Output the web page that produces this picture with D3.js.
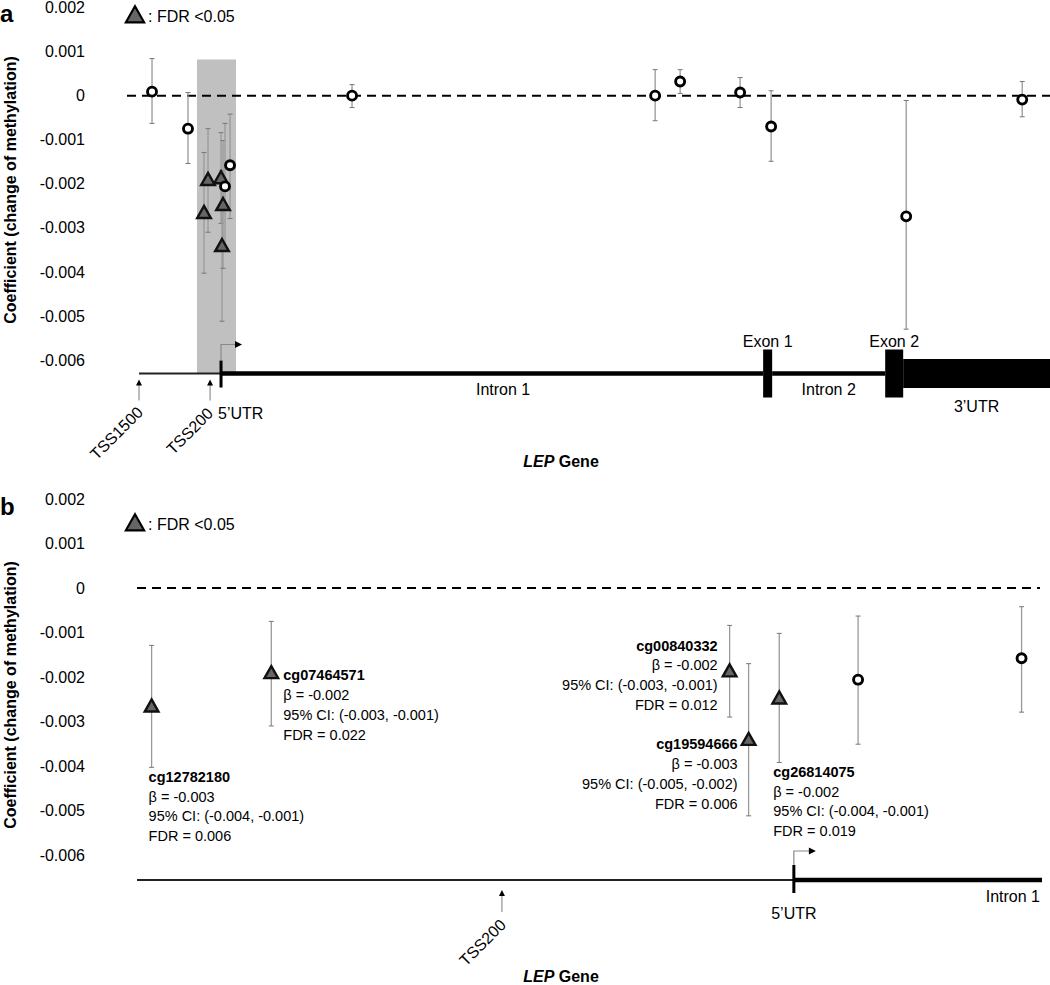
<!DOCTYPE html>
<html>
<head>
<meta charset="utf-8">
<script src="https://cdn.jsdelivr.net/npm/d3@7"></script>
<style>
  body { margin: 0; background: #fff; }
  svg { display: block; }
  text { font-family: "Liberation Sans", Arial, Helvetica, sans-serif; fill: #000; }
</style>
</head>
<body>
<script>
(function () {
  "use strict";

  // ---- panel a : all LEP probes (position along the gene schematic, bp from TSS) ----
  var posA  = [-1262, -604, -311, -238, 0, 18, 37, 73, 165, 2396, 7939, 8396, 9493, 10060, 12530, 14652];
  var coef  = [0.00009, -0.00075, -0.00267, -0.00192, -0.00188, -0.00342, -0.00249, -0.00206, -0.00158,
               0.00000, 0.00000, 0.00032, 0.00007, -0.00070, -0.00274, -0.00009];
  var ciHi  = [0.00084, 0.00007, -0.00129, -0.00075, -0.00084, -0.00170, -0.00102, -0.00063, -0.00042,
               0.00025, 0.00059, 0.00059, 0.00041, 0.00011, -0.00011, 0.00032];
  var ciLo  = [-0.00063, -0.00154, -0.00403, -0.00310, -0.00290, -0.00512, -0.00392, -0.00351, -0.00279,
               -0.00027, -0.00057, 0.00005, -0.00027, -0.00149, -0.00530, -0.00048];
  var sig   = [0, 0, 1, 1, 1, 1, 1, 0, 0, 0, 0, 0, 0, 0, 0, 0];

  // ---- panel b : zoom on the promoter probes (indices into the arrays above) ----
  var idxB  = [2, 3, 4, 5, 6, 7, 8];
  var posB  = [-440, -358, -44, -31, -10, 44, 156];

  // annotations of the significant probes
  var annIdx  = [2, 3, 4, 5, 6];
  var annId   = ['cg12782180', 'cg07464571', 'cg00840332', 'cg19594666', 'cg26814075'];
  var annBeta = ['-0.003', '-0.002', '-0.002', '-0.003', '-0.002'];
  var annCI   = ['(-0.004, -0.001)', '(-0.003, -0.001)', '(-0.003, -0.001)', '(-0.005, -0.002)', '(-0.004, -0.001)'];
  var annFDR  = ['0.006', '0.022', '0.012', '0.006', '0.019'];

  // gene structure, panel a
  var featStart = [-1500, 0, 9914, 10079, 12146, 12475];
  var featEnd   = [0, 9914, 10079, 12146, 12475, 15160];
  var featType  = ['thin', 'thick', 'exon', 'thick', 'exon', 'utr'];
  var featName  = ['', 'Intron 1', 'Exon 1', 'Intron 2', 'Exon 2', '3\u2019UTR'];
  var shadeRange = [-439, 274];
  var shadeTop = 0.00082;

  var yTicks = [0.002, 0.001, 0, -0.001, -0.002, -0.003, -0.004, -0.005, -0.006];

  var W = 1050, H = 985;
  var svg = d3.select('body').append('svg')
      .attr('width', W)
      .attr('height', H);

  var xA = d3.scaleLinear().domain([-1500, 15160]).range([139, 1050]);
  var yA = d3.scaleLinear().domain([-0.006, 0.002]).range([360, 7.5]);
  var xB = d3.scaleLinear().domain([-450, 170]).range([137, 1042]);
  var yB = d3.scaleLinear().domain([-0.006, 0.002]).range([855, 499]);

  function triPath(s) {
    return 'M0,' + (-7 * s) + 'L' + (6.5 * s) + ',' + (4.5 * s) + 'L' + (-6.5 * s) + ',' + (4.5 * s) + 'Z';
  }

  function yAxis(g, y, letter, letterY, titleY, legendY) {
    var ax = g.append('g')
        .attr('transform', 'translate(85,0)')
        .call(d3.axisLeft(y).tickValues(yTicks).tickSize(0).tickPadding(0)
          .tickFormat(function (d) { return d === 0 ? '0' : d.toFixed(3); }));
    ax.select('.domain').remove();
    ax.selectAll('text')
        .style('font-family', '"Liberation Sans", Arial, sans-serif')
        .style('font-size', '16px')
        .attr('fill', '#000');

    g.append('text')
        .attr('x', 0)
        .attr('y', letterY)
        .style('font-size', '24px')
        .style('font-weight', 'bold')
        .text(letter);

    g.append('text')
        .attr('transform', 'translate(16,' + titleY + ') rotate(-90)')
        .attr('text-anchor', 'middle')
        .style('font-size', '16px')
        .style('font-weight', 'bold')
        .text('Coefficient (change of methylation)');

    // legend
    g.append('path')
        .attr('d', triPath(1.4))
        .attr('transform', 'translate(135,' + legendY + ')')
        .attr('fill', '#666')
        .attr('stroke', '#000')
        .attr('stroke-width', 2.2);
    g.append('text')
        .attr('x', 148)
        .attr('y', legendY + 6)
        .style('font-size', '16px')
        .text(': FDR <0.05');
  }

  function points(g, rows, x, y) {
    var bars = g.selectAll('.bar')
        .data(rows)
        .enter()
      .append('g')
        .attr('class', 'bar');
    bars.append('line')
        .attr('x1', function (d) { return x(d.pos); })
        .attr('x2', function (d) { return x(d.pos); })
        .attr('y1', function (d) { return y(d.hi); })
        .attr('y2', function (d) { return y(d.lo); })
        .attr('stroke', '#999')
        .attr('stroke-width', 1.3);
    ['hi', 'lo'].forEach(function (k) {
      bars.append('line')
          .attr('x1', function (d) { return x(d.pos) - 2.5; })
          .attr('x2', function (d) { return x(d.pos) + 2.5; })
          .attr('y1', function (d) { return y(d[k]); })
          .attr('y2', function (d) { return y(d[k]); })
          .attr('stroke', '#777')
          .attr('stroke-width', 1);
    });

    g.selectAll('.tri')
        .data(rows.filter(function (d) { return d.sig; }))
        .enter()
      .append('path')
        .attr('class', 'tri')
        .attr('d', triPath(1.05))
        .attr('transform', function (d) { return 'translate(' + x(d.pos) + ',' + y(d.coef) + ')'; })
        .attr('fill', '#666')
        .attr('stroke', '#111')
        .attr('stroke-width', 2.4);

    g.selectAll('.dot')
        .data(rows.filter(function (d) { return !d.sig; }))
        .enter()
      .append('circle')
        .attr('class', 'dot')
        .attr('cx', function (d) { return x(d.pos); })
        .attr('cy', function (d) { return y(d.coef); })
        .attr('r', 4.5)
        .attr('fill', '#fff')
        .attr('stroke', '#000')
        .attr('stroke-width', 2.9);
  }

  function upArrow(g, x, y1, y2) {
    g.append('line')
        .attr('x1', x).attr('x2', x)
        .attr('y1', y1).attr('y2', y2 + 5)
        .attr('stroke', '#999')
        .attr('stroke-width', 1.3);
    g.append('path')
        .attr('d', 'M' + x + ',' + y2 + 'l3,6l-6,0z')
        .attr('fill', '#000');
  }

  function tssArrow(g, x, yBase, yTop, len) {
    g.append('path')
        .attr('d', 'M' + x + ',' + yBase + 'V' + yTop + 'H' + (x + len - 6))
        .attr('fill', 'none')
        .attr('stroke', '#888')
        .attr('stroke-width', 1.2);
    g.append('path')
        .attr('d', 'M' + (x + len) + ',' + yTop + 'l-7,-3.5l0,7z')
        .attr('fill', '#000');
  }

  function rotLabel(g, x, y, txt) {
    g.append('text')
        .attr('transform', 'translate(' + x + ',' + y + ') rotate(-45)')
        .attr('text-anchor', 'end')
        .style('font-size', '16px')
        .text(txt);
  }

  function geneTitle(g, x, y) {
    var t = g.append('text')
        .attr('x', x)
        .attr('y', y)
        .attr('text-anchor', 'middle')
        .style('font-size', '16px')
        .style('font-weight', 'bold');
    t.append('tspan').style('font-style', 'italic').text('LEP');
    t.append('tspan').text(' Gene');
  }

  // ================= panel a =================
  var ga = svg.append('g');
  var gyA = 373.5;

  ga.append('rect')
      .attr('x', xA(shadeRange[0]))
      .attr('width', xA(shadeRange[1]) - xA(shadeRange[0]))
      .attr('y', yA(shadeTop))
      .attr('height', gyA - yA(shadeTop))
      .attr('fill', '#c0c0c0');

  yAxis(ga, yA, 'a', 22, 190, 16);

  ga.append('line')
      .attr('x1', 127).attr('x2', W)
      .attr('y1', yA(0)).attr('y2', yA(0))
      .attr('stroke', '#000')
      .attr('stroke-width', 2)
      .attr('stroke-dasharray', '9,6');

  var rowsA = posA.map(function (p, i) {
    return {pos: p, coef: coef[i], hi: ciHi[i], lo: ciLo[i], sig: sig[i]};
  });

  // gene schematic a
  featType.forEach(function (t, i) {
    var x0 = xA(featStart[i]), x1 = xA(featEnd[i]);
    if (t === 'thin' || t === 'thick') {
      ga.append('line')
          .attr('x1', x0).attr('x2', x1)
          .attr('y1', gyA).attr('y2', gyA)
          .attr('stroke', t === 'thin' ? '#222' : '#000')
          .attr('stroke-width', t === 'thin' ? 2 : 4.5);
    } else {
      var h = t === 'exon' ? 48 : 29;
      ga.append('rect')
          .attr('x', x0).attr('width', x1 - x0)
          .attr('y', gyA - h / 2).attr('height', h)
          .attr('fill', '#000');
    }
    if (featName[i]) {
      var mid = (x0 + x1) / 2 + (i === 1 ? 11 : 0);
      var ly = t === 'exon' ? gyA - 27 : (t === 'utr' ? gyA + 38.5 : gyA + 21.5);
      ga.append('text')
          .attr('x', mid)
          .attr('y', ly)
          .attr('text-anchor', 'middle')
          .style('font-size', '16px')
          .text(featName[i]);
    }
  });

  ga.append('rect')
      .attr('x', xA(0) - 1.5).attr('width', 3)
      .attr('y', gyA - 13).attr('height', 27)
      .attr('fill', '#000');
  tssArrow(ga, xA(0), gyA - 13, gyA - 29, 21);
  ga.append('text')
      .attr('x', xA(0) - 3)
      .attr('y', gyA + 45.5)
      .style('font-size', '16px')
      .text('5\u2019UTR');

  upArrow(ga, xA(-1500), gyA + 27, gyA + 6);
  upArrow(ga, xA(-200), gyA + 27, gyA + 6);
  rotLabel(ga, xA(-1500) + 5, gyA + 40, 'TSS1500');
  rotLabel(ga, xA(-200) + 4, gyA + 41, 'TSS200');

  points(ga, rowsA, xA, yA);
  geneTitle(ga, 561, 467);

  // ================= panel b =================
  var gb = svg.append('g');
  var gyB = 880;

  yAxis(gb, yB, 'b', 515, 695, 524);

  gb.append('line')
      .attr('x1', 137).attr('x2', 1040)
      .attr('y1', yB(0)).attr('y2', yB(0))
      .attr('stroke', '#000')
      .attr('stroke-width', 2)
      .attr('stroke-dasharray', '9,6');

  var rowsB = idxB.map(function (k, i) {
    return {pos: posB[i], coef: coef[k], hi: ciHi[k], lo: ciLo[k], sig: sig[k]};
  });

  gb.append('line')
      .attr('x1', xB(-450)).attr('x2', xB(0))
      .attr('y1', gyB).attr('y2', gyB)
      .attr('stroke', '#222')
      .attr('stroke-width', 2);
  gb.append('line')
      .attr('x1', xB(0)).attr('x2', xB(170))
      .attr('y1', gyB).attr('y2', gyB)
      .attr('stroke', '#000')
      .attr('stroke-width', 4.5);
  gb.append('rect')
      .attr('x', xB(0) - 1.5).attr('width', 3)
      .attr('y', gyB - 15).attr('height', 28)
      .attr('fill', '#000');
  tssArrow(gb, xB(0), gyB - 15, gyB - 29, 22);
  gb.append('text')
      .attr('x', xB(0))
      .attr('y', gyB + 38.5)
      .attr('text-anchor', 'middle')
      .style('font-size', '16px')
      .text('5\u2019UTR');
  gb.append('text')
      .attr('x', xB(170) - 2)
      .attr('y', gyB + 22)
      .attr('text-anchor', 'end')
      .style('font-size', '16px')
      .text('Intron 1');

  upArrow(gb, xB(-200), gyB + 32, gyB + 10);
  rotLabel(gb, xB(-200) + 5, gyB + 46, 'TSS200');

  points(gb, rowsB, xB, yB);

  // annotation placement: [dx, dy of first baseline, anchor]
  var annPlace = [[-3, 75, 'start'], [12, 7, 'start'], [-12, -21, 'end'], [-11, 9, 'end'], [-6, 78, 'start']];
  annIdx.forEach(function (k, i) {
    var px = xB(posB[idxB.indexOf(k)]), py = yB(coef[k]);
    var pl = annPlace[i];
    var t = gb.append('text')
        .attr('x', px + pl[0])
        .attr('y', py + pl[1])
        .attr('text-anchor', pl[2])
        .style('font-size', '14.5px');
    var lines = [annId[i], '\u03b2 = ' + annBeta[i], '95% CI: ' + annCI[i], 'FDR = ' + annFDR[i]];
    lines.forEach(function (s, j) {
      t.append('tspan')
          .attr('x', px + pl[0])
          .attr('dy', j === 0 ? 0 : 19.8)
          .style('font-weight', j === 0 ? 'bold' : 'normal')
          .text(s);
    });
  });

  geneTitle(gb, 561, 982);
}());
</script>
</body>
</html>
